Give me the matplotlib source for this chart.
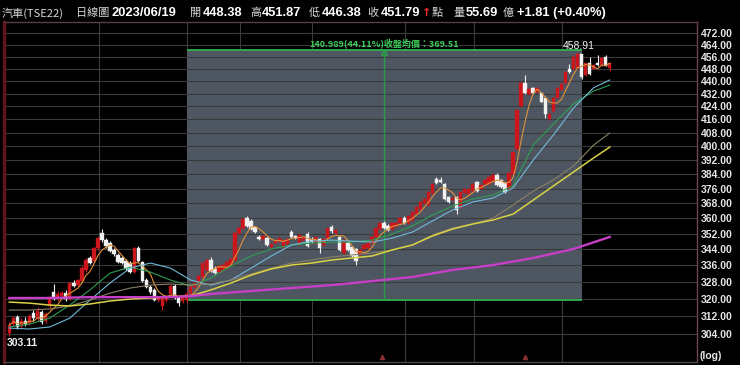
import numpy as np
import pandas as pd
import matplotlib
matplotlib.use("Agg")
import matplotlib.pyplot as plt
from matplotlib.patches import Rectangle
from matplotlib.ticker import FixedLocator, NullLocator, FuncFormatter
import matplotlib.transforms as mtransforms

# ---- data (TSE22 daily, 2022/11/01 .. 2023/06/19) ----
opens = [304.5, 308.5, 311.5, 307.5, 310.0, 309.0, 313.5, 311.0, 314.0, 310.0,
         316.5, 323.0, 320.5, 321.5, 322.8, 320.0, 327.5, 326.5, 328.5, 334.0,
         339.6, 338.0, 344.5, 352.5, 348.5, 347.0, 343.5, 341.0, 339.5, 338.0,
         337.0, 333.0, 344.5, 337.5, 329.0, 325.5, 324.0, 319.5, 316.5, 319.5,
         322.5, 326.0, 321.0, 319.0, 319.6, 322.8, 325.5, 327.5, 330.5, 334.0,
         338.5, 334.5, 333.0, 334.0, 335.0, 336.0, 338.5, 352.5, 355.0, 360.0,
         358.5, 355.5, 350.5, 349.5, 350.0, 345.0, 347.0, 348.0, 345.0, 346.5,
         353.0, 351.0, 346.5, 348.5, 352.0, 349.5, 347.0, 349.5, 346.0, 350.0,
         355.7, 352.5, 350.5, 342.0, 347.0, 345.0, 344.0, 341.5, 344.0, 344.5,
         347.0, 350.5, 354.5, 357.5, 356.0, 354.5, 356.0, 357.3, 360.0, 357.5,
         359.0, 362.5, 365.0, 368.0, 367.0, 373.5, 381.5, 381.0, 378.5, 371.5,
         369.5, 371.5, 366.0, 373.5, 373.0, 374.5, 379.5, 376.0, 378.5, 378.5,
         380.0, 383.5, 381.0, 379.0, 375.5, 384.0, 398.5, 424.0, 438.5, 431.5,
         435.5, 433.0, 432.5, 429.0, 416.5, 421.0, 429.5, 434.5, 438.5, 448.0,
         448.0, 448.5, 457.5, 444.0, 452.0, 448.0, 452.0, 450.5, 455.5, 448.38]
highs = [309.5, 312.0, 312.5, 311.0, 311.5, 313.0, 315.0, 316.0, 315.0, 314.0,
         321.5, 327.0, 323.5, 323.5, 324.0, 328.0, 329.0, 329.5, 335.5, 339.5,
         340.5, 345.0, 350.5, 354.5, 350.0, 348.0, 344.5, 342.0, 340.5, 339.0,
         338.0, 345.0, 345.5, 338.0, 330.0, 326.5, 325.0, 321.5, 321.0, 322.0,
         326.5, 327.0, 321.5, 321.5, 323.5, 326.5, 328.0, 331.5, 337.5, 339.0,
         340.0, 335.5, 336.0, 336.5, 338.0, 339.5, 353.0, 355.5, 360.0, 361.0,
         359.5, 356.0, 351.5, 351.5, 350.5, 347.0, 349.5, 350.5, 349.0, 350.0,
         354.0, 351.5, 352.0, 351.0, 353.0, 350.5, 351.0, 350.0, 350.0, 355.0,
         356.5, 354.5, 351.0, 349.0, 348.0, 345.5, 344.5, 344.0, 346.5, 347.5,
         351.0, 355.0, 357.8, 358.5, 357.0, 358.0, 358.0, 360.5, 361.0, 361.5,
         364.0, 366.5, 369.0, 371.0, 374.5, 379.0, 382.5, 382.5, 379.0, 372.0,
         371.5, 372.0, 374.5, 376.0, 376.5, 379.0, 380.0, 378.5, 381.5, 383.0,
         384.0, 384.5, 381.5, 379.5, 385.0, 397.0, 422.5, 439.0, 444.0, 435.5,
         436.0, 436.0, 433.0, 429.5, 420.0, 430.0, 436.0, 438.5, 446.5, 451.0,
         457.0, 458.91, 458.0, 452.0, 456.0, 451.0, 457.0, 455.5, 457.0, 451.87]
lows = [303.11, 307.5, 306.0, 306.5, 307.5, 308.0, 310.0, 310.0, 308.5, 309.0,
        315.5, 319.5, 319.0, 320.5, 319.0, 319.5, 325.5, 325.5, 328.0, 333.0,
        336.5, 337.5, 343.5, 347.5, 344.5, 342.5, 340.5, 337.0, 336.5, 334.0,
        332.5, 332.5, 337.5, 328.0, 325.0, 322.5, 319.0, 318.5, 315.0, 318.5,
        322.0, 320.0, 316.5, 318.0, 318.0, 322.0, 325.0, 327.0, 330.0, 333.5,
        333.0, 332.0, 332.5, 333.5, 334.5, 335.5, 338.0, 352.0, 354.5, 355.5,
        354.0, 352.5, 349.0, 349.0, 345.5, 344.5, 346.5, 347.5, 344.5, 346.0,
        350.0, 349.5, 346.0, 348.0, 345.0, 347.0, 346.5, 342.0, 345.5, 349.5,
        352.5, 352.0, 343.0, 341.5, 343.0, 340.0, 336.0, 341.0, 343.5, 344.0,
        346.5, 350.0, 354.0, 354.5, 353.5, 354.0, 355.5, 357.0, 357.0, 357.0,
        358.5, 362.0, 364.5, 367.5, 366.5, 373.0, 378.5, 379.0, 370.0, 368.0,
        369.0, 362.5, 365.5, 373.0, 372.5, 374.0, 374.0, 375.5, 378.0, 378.0,
        379.5, 377.5, 376.5, 373.5, 375.0, 383.5, 398.0, 423.5, 432.0, 431.0,
        432.0, 432.5, 426.5, 417.0, 415.5, 420.5, 429.0, 434.0, 438.0, 445.5,
        447.5, 448.0, 441.0, 443.5, 444.0, 447.5, 450.0, 450.0, 449.5, 446.38]
closes = [308.0, 311.0, 307.0, 310.0, 308.5, 312.0, 311.0, 314.5, 309.5, 313.0,
          320.8, 320.5, 322.5, 322.8, 320.0, 327.5, 326.0, 328.8, 334.8, 338.5,
          337.2, 344.6, 349.6, 348.5, 345.5, 343.0, 341.5, 337.5, 337.0, 334.5,
          333.0, 344.5, 338.0, 328.5, 325.5, 323.0, 319.5, 321.0, 320.5, 321.5,
          326.0, 320.5, 318.0, 321.0, 322.5, 326.0, 327.5, 331.0, 337.2, 338.5,
          333.5, 332.5, 335.5, 336.0, 337.5, 339.0, 352.5, 355.0, 359.5, 356.0,
          354.5, 353.0, 349.5, 351.0, 346.0, 346.5, 349.0, 350.0, 348.5, 349.5,
          350.5, 350.0, 351.5, 350.5, 345.5, 347.5, 350.5, 344.6, 349.5, 354.7,
          353.2, 354.0, 343.5, 348.5, 343.5, 340.5, 338.0, 343.5, 346.0, 347.0,
          350.5, 354.7, 357.3, 355.0, 354.0, 357.5, 357.5, 359.9, 357.5, 361.0,
          363.5, 366.2, 368.5, 370.5, 374.0, 378.5, 379.0, 379.5, 370.5, 368.5,
          371.0, 364.5, 374.0, 375.5, 376.0, 378.5, 374.5, 378.0, 381.0, 382.5,
          383.5, 378.0, 377.0, 374.0, 384.5, 396.5, 422.0, 438.5, 432.5, 435.0,
          432.5, 435.5, 427.0, 419.0, 419.5, 429.5, 435.5, 438.0, 446.0, 446.0,
          456.0, 457.5, 442.5, 451.5, 444.5, 450.5, 450.5, 455.0, 449.98, 451.79]

# longer moving averages, every few bars
ma_idx = [0, 5, 10, 15, 20, 25, 30, 35, 40, 45, 50, 55, 60, 65, 70, 75, 80, 85,
          90, 95, 100, 105, 110, 115, 120, 125, 130, 135, 140, 145, 149]
ma_green = [307.1, 308.4, 311.1, 317.1, 324.2, 332.3, 335.2, 332.8, 328.9, 326.1,
            329.9, 335.7, 340.7, 344.2, 346.2, 347.2, 347.7, 347.7, 348.7, 351.8,
            356.0, 361.7, 366.5, 370.3, 372.5, 377.4, 400.7, 413.2, 425.5, 433.6, 437.4]
ma_cyan = [306.6, 306.2, 307.1, 311.1, 319.4, 327.5, 334.7, 337.2, 334.7, 328.9,
           326.5, 328.9, 334.7, 340.7, 346.2, 348.2, 348.7, 348.2, 347.7, 349.7,
           352.8, 358.6, 364.4, 368.7, 370.8, 376.3, 392.0, 406.6, 423.0, 435.7, 440.7]
ma_tan = [314.8, 314.8, 315.3, 316.7, 319.4, 322.7, 325.1, 326.5, 327.0, 326.5,
          327.0, 328.9, 331.8, 334.7, 337.2, 338.7, 340.2, 341.2, 342.2, 343.7,
          346.2, 351.3, 354.9, 357.0, 360.1, 367.0, 374.6, 380.7, 388.6, 400.7, 407.8]
ma_yellow = [318.5, 318.0, 317.1, 316.7, 317.6, 319.0, 319.9, 320.4, 320.8, 321.3,
             324.2, 327.5, 331.3, 334.3, 336.2, 337.2, 338.7, 339.7, 340.7, 343.7,
             346.2, 350.8, 354.4, 357.0, 359.1, 362.2, 369.7, 377.4, 385.2, 393.2, 399.5]
mag_idx = [0, 10, 20, 30, 40, 45, 50, 60, 70, 80, 90, 100, 110, 120, 130, 140, 149]
ma_magenta = [320.4, 320.4, 320.8, 320.8, 320.8, 321.3, 322.3, 323.7, 325.1, 326.5,
              328.4, 330.4, 333.8, 336.2, 339.7, 344.2, 350.3]

month_starts = [22, 44, 57, 75, 98, 115, 137]
event_idx = [92.5, 128]
yticks = [304, 312, 320, 328, 336, 344, 352, 360, 368, 376, 384, 392, 400,
          408, 416, 424, 432, 440, 448, 456, 464, 472]

range_start, range_end, range_mid = 44, 142, 93
range_low, range_diff = 319.63, 140.989
range_text = "140.989(44.11%)收盤均價：369.51"
max_label, min_label = "458.91", "303.11"
max_idx, min_idx = 141, 0

header = [("汽車(TSE22)", 2, "cjk"), ("日線圖", 76, "cjk"), ("2023/06/19", 112, "num"),
          ("開", 190, "cjk"), ("448.38", 203, "num"), ("高", 250, "cjk"),
          ("451.87", 262, "num"), ("低", 309, "cjk"), ("446.38", 322, "num"),
          ("收", 367, "cjk"), ("451.79", 381, "num"), ("↑", 422, "arrow"),
          ("點", 432, "cjk"), ("量", 453, "cjk"), ("55.69", 466, "num"),
          ("億", 503, "cjk"), ("+1.81 (+0.40%)", 517, "num")]

# ---- figure ----
W, H = 740, 365
CJK = ["Noto Sans CJK TC", "DejaVu Sans"]
NUM = ["Liberation Sans", "DejaVu Sans"]

fig = plt.figure(figsize=(W / 100, H / 100), dpi=100, facecolor="black")
ax = fig.add_axes([4 / W, 3 / H, 693 / W, 340 / H], facecolor="black")

x = np.arange(len(closes))
o = np.array(opens); c = np.array(closes); hi = np.array(highs); lo = np.array(lows)
up = c >= o
red, white = "#cc161c", "#f2f2f2"
cols = np.where(up, red, white)

ax.vlines(x, lo, hi, colors=cols, lw=0.8, zorder=3)
bot = np.minimum(o, c)
top = np.maximum(o, c)
ax.bar(x, np.maximum(top - bot, 0.2), bottom=bot, width=0.86, color=cols,
       edgecolor=cols, lw=0.3, zorder=3)

ma5 = pd.Series(closes).rolling(5, min_periods=1).mean()
ax.plot(x, ma5, color="#e0913a", lw=0.8, zorder=4)
ax.plot(ma_idx, ma_green, color="#2f9f55", lw=0.8, zorder=4)
ax.plot(ma_idx, ma_cyan, color="#72b9da", lw=0.8, zorder=4)
ax.plot(ma_idx, ma_tan, color="#8c8165", lw=0.8, zorder=4)
ax.plot(ma_idx, ma_yellow, color="#d9d245", lw=1.1, zorder=4)
ax.plot(mag_idx, ma_magenta, color="#c63fc6", lw=1.7, zorder=4)

# shaded range box
r_hi = range_low + range_diff
ax.add_patch(Rectangle((range_start, range_low), range_end - range_start, r_hi - range_low,
                       facecolor="#4e5662", edgecolor="none", zorder=1))
ax.hlines([r_hi, range_low], range_start, range_end, colors="#2fb34f", lw=1.3, zorder=2)
ax.vlines(range_mid, range_low, r_hi, colors="#2a9d48", lw=1.0, zorder=2)
ax.plot([range_mid], [r_hi - 1.5], marker="^", ms=4, mfc="none", mec="#2a9d48", zorder=2)
ax.text(range_mid, r_hi + 1.2, range_text, color="#3fcf5c", fontsize=6.5,
        family=CJK, weight="bold", ha="center", va="bottom", zorder=5)

ax.text(max_idx + 0.3, highs[max_idx] + 1.0, max_label, color="#f0f0f0", fontsize=7.5,
        family=NUM, ha="center", va="bottom", zorder=5)
ax.text(min_idx - 0.6, lows[min_idx] - 0.8, min_label, color="#f0f0f0", fontsize=7.5,
        family=NUM, weight="bold", ha="left", va="top", zorder=5)

# grid
ax.set_yscale("log")
ax.set_xlim(-1.32, 170.65)
ax.set_ylim(291.78, 479.65)
ax.yaxis.set_major_locator(FixedLocator(yticks))
ax.yaxis.set_minor_locator(NullLocator())
ax.yaxis.set_major_formatter(FuncFormatter(lambda v, p: f"{v:.2f}"))
ax.yaxis.tick_right()
ax.tick_params(axis="y", length=0, pad=3, labelsize=7.5, labelcolor="#e6e6e6")
for lab in ax.get_yticklabels():
    lab.set_family(NUM)
    lab.set_weight("bold")
ax.set_xticks([])
ax.grid(axis="y", color="#3a3a3a", lw=0.8, zorder=0)
for m in month_starts:
    ax.axvline(m + 0.2, color="#3a3a3a", lw=0.8, zorder=0)

trans = mtransforms.blended_transform_factory(ax.transData, ax.transAxes)
ax.scatter(event_idx, [0.016] * len(event_idx), marker="^", s=9, color="#8a3030",
           transform=trans, zorder=5, clip_on=False)

for side, col, lw in [("left", "#5c1519", 2.5), ("top", "#5a3d44", 1.0),
                      ("right", "#6e4450", 1.0), ("bottom", "#4a4a4a", 1.0)]:
    ax.spines[side].set_color(col)
    ax.spines[side].set_linewidth(lw)

fig.text(700 / W, 1 - 356 / H, "(log)", color="#e6e6e6", fontsize=7.5, family=NUM,
         weight="bold", va="center", ha="left")

# header line
for s, px, kind in header:
    if kind == "cjk":
        fig.text(px / W, 1 - 13 / H, s, color="#d8d8d8", fontsize=8, family=CJK, va="center")
    elif kind == "num":
        fig.text(px / W, 1 - 13 / H, s, color="white", fontsize=9.3, family=NUM,
                 weight="bold", va="center")
    else:
        fig.text(px / W, 1 - 13 / H, s, color="#ff2a2a", fontsize=8, family=["DejaVu Sans"],
                 weight="bold", va="center")

fig.savefig("out.png", dpi=100, facecolor="black")
